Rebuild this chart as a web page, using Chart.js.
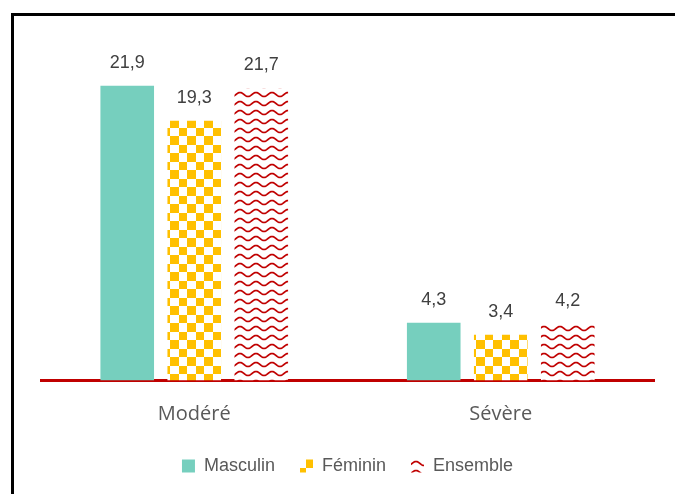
<!DOCTYPE html>
<html>
<head>
<meta charset="utf-8">
<script src="https://cdn.jsdelivr.net/npm/chart.js@4.4.1/dist/chart.umd.min.js"></script>
<style>
  html, body { margin: 0; padding: 0; background: #fff; }
  #wrap { position: relative; width: 675px; height: 494px; overflow: hidden; }
  #frame { position: absolute; left: 11px; top: 13px; width: 700px; height: 520px;
           border-top: 3px solid #000; border-left: 3px solid #000; box-sizing: border-box; }
  canvas { position: absolute; left: 0; top: 0; }
</style>
</head>
<body>
<div id="wrap">
  <div id="frame"></div>
  <canvas id="chart" width="675" height="494"></canvas>
</div>
<script>
// données
const categories = ['Modéré', 'Sévère'];
const seriesNames = ['Masculin', 'Féminin', 'Ensemble'];
const masculin = [21.9, 4.3];
const feminin = [19.3, 3.4];
const ensemble = [21.7, 4.2];

// motif damier jaune
function checkerPattern() {
  const c = document.createElement('canvas');
  c.width = 17; c.height = 17;
  const ctx = c.getContext('2d');
  ctx.fillStyle = '#fff';
  ctx.fillRect(0, 0, 17, 17);
  ctx.fillStyle = '#FFC000';
  ctx.fillRect(0, 0, 9, 9);
  ctx.fillRect(9, 9, 8, 8);
  return c.getContext('2d').createPattern(c, 'repeat');
}

// motif vagues rouges
function wavePattern() {
  const c = document.createElement('canvas');
  c.width = 16; c.height = 9;
  const ctx = c.getContext('2d');
  ctx.fillStyle = '#fff';
  ctx.fillRect(0, 0, 16, 9);
  ctx.strokeStyle = '#C00000';
  ctx.lineWidth = 1.7;
  ctx.beginPath();
  for (let x = -1; x <= 17; x += 0.5) {
    const y = 4.5 - 2 * Math.cos((x / 16) * Math.PI * 2);
    if (x === -1) ctx.moveTo(x, y); else ctx.lineTo(x, y);
  }
  ctx.stroke();
  return c.getContext('2d').createPattern(c, 'repeat');
}

const valueLabels = {
  id: 'valueLabels',
  afterDatasetsDraw(chart) {
    const ctx = chart.ctx;
    ctx.save();
    ctx.font = '18px "Liberation Sans", Arial, sans-serif';
    ctx.fillStyle = '#404040';
    ctx.textAlign = 'center';
    ctx.textBaseline = 'bottom';
    chart.data.datasets.forEach((ds, i) => {
      chart.getDatasetMeta(i).data.forEach((bar, j) => {
        ctx.fillText(ds.data[j].toFixed(1).replace('.', ','), bar.x, bar.y - 14);
      });
    });
    ctx.restore();
  }
};

new Chart(document.getElementById('chart'), {
  type: 'bar',
  data: {
    labels: categories,
    datasets: [
      { label: seriesNames[0], data: masculin, backgroundColor: '#76CFBE' },
      { label: seriesNames[1], data: feminin, backgroundColor: checkerPattern() },
      { label: seriesNames[2], data: ensemble, backgroundColor: wavePattern() }
    ]
  },
  options: {
    responsive: false,
    animation: false,
    layout: { padding: { top: 44, left: 41, right: 21, bottom: 9 } },
    datasets: { bar: { categoryPercentage: 0.656, barPercentage: 0.8 } },
    scales: {
      y: { display: false, min: 0, max: 25 },
      x: {
        grid: { display: false, drawTicks: false },
        border: { color: '#C00000', width: 3 },
        ticks: { color: '#595959', font: { family: '"Open Sans", sans-serif', size: 20 }, padding: 22 },
        afterFit(scale) { scale.height = 51.4; }
      }
    },
    plugins: {
      legend: {
        position: 'bottom',
        labels: {
          boxWidth: 13, boxHeight: 13, padding: 25,
          color: '#595959',
          font: { family: '"Liberation Sans", Arial, sans-serif', size: 18 }
        }
      },
      tooltip: { enabled: false }
    }
  },
  plugins: [valueLabels]
});
</script>
</body>
</html>
